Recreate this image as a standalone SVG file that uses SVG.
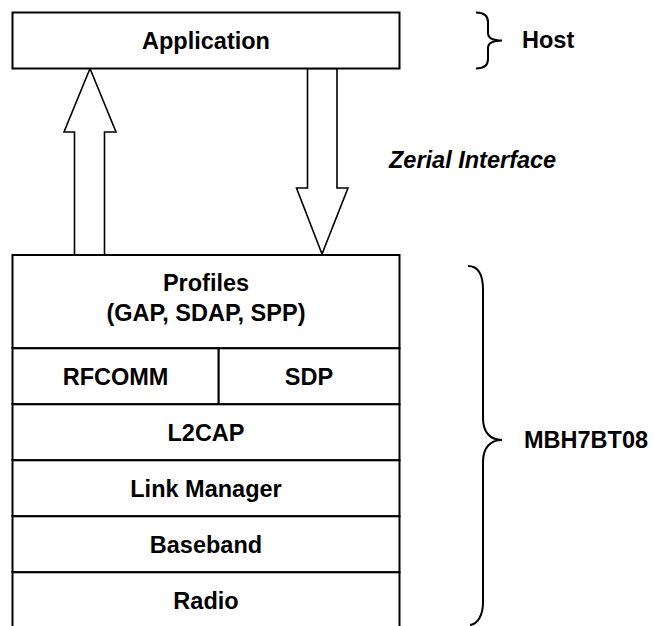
<svg xmlns="http://www.w3.org/2000/svg" width="654" height="626" viewBox="0 0 654 626">
<style>
.box{fill:#fff;stroke:#000;stroke-width:2}
.lbl{font-family:"Liberation Sans",Arial,sans-serif;font-weight:bold;font-size:23.5px;fill:#000;text-anchor:middle}
.side{font-family:"Liberation Sans",Arial,sans-serif;font-weight:bold;font-size:23.5px;fill:#000}
.arrow{fill:#fff;stroke:#000;stroke-width:1.6;stroke-linejoin:miter}
.brace{fill:none;stroke:#000;stroke-width:2}
</style>
<rect width="654" height="626" fill="#fff"/>
<g id="connectors">
<polygon class="arrow" points="74.5,255 74.5,132 64,132 90,68.5 116,132 104.5,132 104.5,255"/>
<polygon class="arrow" points="307.5,68.5 337,68.5 337,188 348,188 322,254 296.5,188 307.5,188"/>
</g>
<g id="application">
<rect class="box" x="12.5" y="12.5" width="387" height="56"/>
<text class="lbl" x="206" y="49">Application</text>
</g>
<g id="host-brace">
<path class="brace" d="M476 12.5 C484 12.5 488 15 488 22 L488 33 C488 38 493 40.5 502 40.5 C493 40.5 488 43 488 48 L488 59 C488 66 484 68.5 476 68.5"/>
<text class="side" x="522" y="48">Host</text>
</g>
<g id="serial-label">
<text class="side" x="389" y="168" font-style="italic">Zerial Interface</text>
</g>
<g id="profiles">
<rect class="box" x="12.5" y="255" width="387" height="93.3"/>
<text class="lbl" x="206" y="291">Profiles</text>
<text class="lbl" x="206" y="321">(GAP, SDAP, SPP)</text>
</g>
<g id="rfcomm">
<rect class="box" x="12.5" y="348.3" width="206.2" height="56"/>
<text class="lbl" x="115.6" y="384.5">RFCOMM</text>
</g>
<g id="sdp">
<rect class="box" x="218.7" y="348.3" width="180.8" height="56"/>
<text class="lbl" x="309" y="384.5">SDP</text>
</g>
<g id="l2cap">
<rect class="box" x="12.5" y="404.3" width="387" height="56"/>
<text class="lbl" x="206" y="440.5">L2CAP</text>
</g>
<g id="link-manager">
<rect class="box" x="12.5" y="460.3" width="387" height="56"/>
<text class="lbl" x="206" y="496.5">Link Manager</text>
</g>
<g id="baseband">
<rect class="box" x="12.5" y="516.3" width="387" height="56"/>
<text class="lbl" x="206" y="552.5">Baseband</text>
</g>
<g id="radio">
<rect class="box" x="12.5" y="572.3" width="387" height="80"/>
<text class="lbl" x="206" y="608.5">Radio</text>
</g>
<g id="module-brace">
<path class="brace" d="M468 266 C478 266 483 275 483 290 L483 418 C483 432 490 440 502 440 C490 440 483 448 483 462 L483 602 C483 615 478 624 470 625"/>
<text class="side" x="524" y="448">MBH7BT08</text>
</g>
</svg>
